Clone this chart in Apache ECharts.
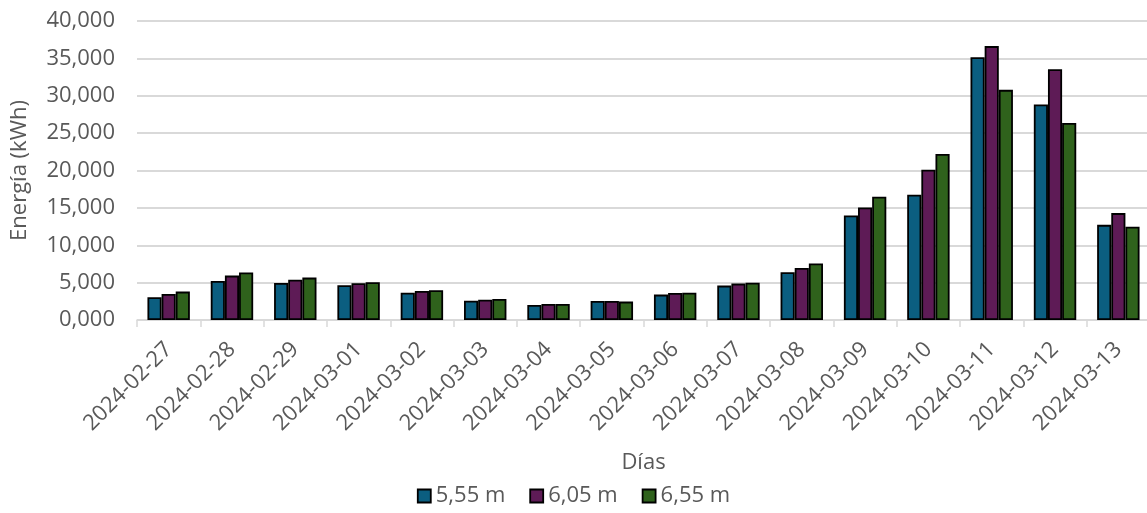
<!DOCTYPE html>
<html>
<head>
<meta charset="utf-8">
<script src="https://cdn.jsdelivr.net/npm/echarts@6/dist/echarts.min.js"></script>
<style>
html,body{margin:0;padding:0;background:#fff;}
#chart{width:1147px;height:513px;}
</style>
</head>
<body>
<div id="chart"></div>
<script>
const categories = ['2024-02-27','2024-02-28','2024-02-29','2024-03-01','2024-03-02','2024-03-03','2024-03-04','2024-03-05','2024-03-06','2024-03-07','2024-03-08','2024-03-09','2024-03-10','2024-03-11','2024-03-12','2024-03-13'];
const seriesNames = ['5,55 m','6,05 m','6,55 m'];
const s555 = [3040, 5230, 4960, 4650, 3660, 2590, 2010, 2550, 3400, 4600, 6390, 13980, 16760, 35160, 28820, 12730];
const s605 = [3490, 5940, 5400, 4920, 3890, 2720, 2140, 2550, 3620, 4870, 6970, 15050, 20100, 36640, 33550, 14300];
const s655 = [3800, 6350, 5670, 5050, 3980, 2810, 2140, 2460, 3660, 5000, 7550, 16490, 22200, 30790, 26370, 12470];
const yTicks = {min: 0, max: 40000, interval: 5000};
const colors = ['#0B5E80', '#5E1B56', '#2F621C'];

const font = 'Open Sans';
const txt = '#595959';
const chart = echarts.init(document.getElementById('chart'), null, {renderer: 'canvas'});
const dataSets = [s555, s605, s655];
chart.setOption({
  animation: false,
  textStyle: {fontFamily: font},
  grid: {left: 137, top: 21, width: 1013, height: 299, containLabel: false, outerBoundsMode: 'none'},
  legend: {
    data: seriesNames,
    bottom: 1,
    left: 'center',
    itemWidth: 13,
    itemHeight: 13,
    itemGap: 24,
    icon: 'rect',
    textStyle: {fontFamily: font, fontSize: 22, color: txt},
    itemStyle: {borderColor: '#000', borderWidth: 1.8}
  },
  xAxis: {
    type: 'category',
    data: categories,
    name: 'Días',
    nameLocation: 'middle',
    nameGap: 132,
    nameTextStyle: {fontFamily: font, fontSize: 22, color: txt},
    axisLine: {lineStyle: {color: '#d9d9d9', width: 1.5}},
    axisTick: {show: true, length: 7, lineStyle: {color: '#d9d9d9', width: 1.5}},
    axisLabel: {rotate: 45, margin: 26, fontFamily: font, fontSize: 22, color: txt, interval: 0}
  },
  yAxis: {
    type: 'value',
    min: yTicks.min,
    max: yTicks.max,
    interval: yTicks.interval,
    name: 'Energía (kWh)',
    nameLocation: 'middle',
    nameGap: 106,
    nameTextStyle: {fontFamily: font, fontSize: 22, color: txt},
    axisLine: {show: false},
    axisTick: {show: false},
    splitLine: {lineStyle: {color: '#d9d9d9', width: 2}},
    axisLabel: {
      margin: 22, fontFamily: font, fontSize: 22, color: txt,
      formatter: v => Math.floor(v / 1000) + ',' + String(v % 1000).padStart(3, '0')
    }
  },
  series: seriesNames.map((n, i) => ({
    name: n,
    type: 'bar',
    data: dataSets[i],
    barGap: '0%',
    barCategoryGap: '33%',
    itemStyle: {color: colors[i], borderColor: '#000', borderWidth: 1.8}
  }))
});
</script>
</body>
</html>
